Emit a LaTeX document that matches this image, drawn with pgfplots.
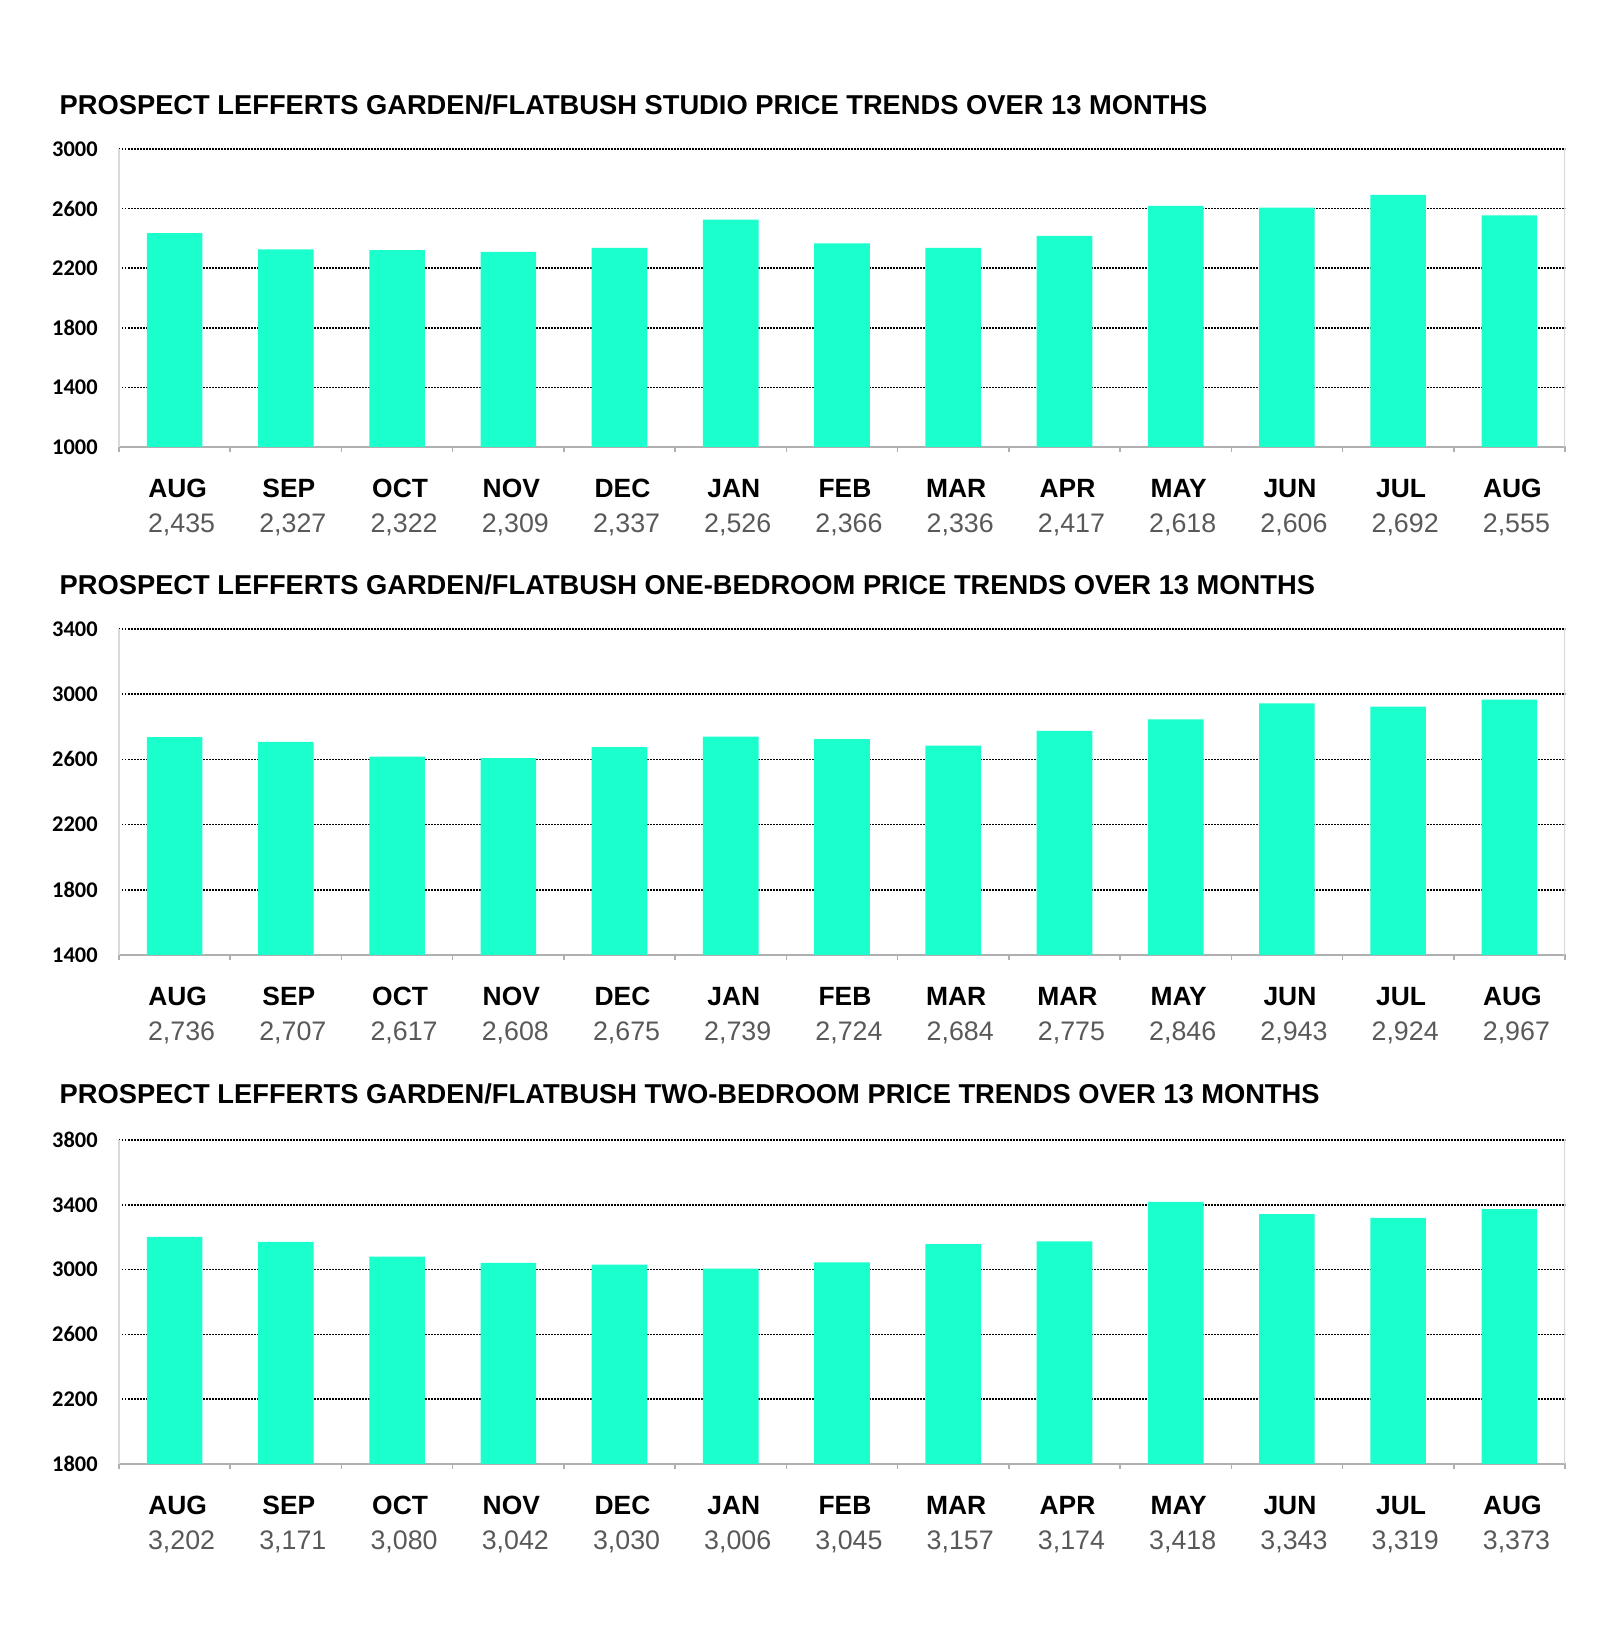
\documentclass[border=0pt]{standalone}
\usepackage{fontspec}
\setmainfont{Liberation Sans}
\newfontfamily\calibri{Carlito}
\usepackage{pgfplots}
\pgfplotsset{compat=1.18}

\definecolor{barcol}{RGB}{26,255,204}
\definecolor{valgray}{RGB}{89,89,89}
\definecolor{botline}{RGB}{176,176,176}
\definecolor{sideline}{RGB}{217,217,217}

\newcommand{\mo}[2]{\textbf{#1}\\\hspace*{4bp}{\fontsize{13.4bp}{17.5bp}\selectfont\color{valgray}#2}}
\newcommand{\ttl}[1]{{\fontsize{13.65bp}{16bp}\selectfont\bfseries #1}}

\pgfplotsset{
  panel/.style={
    scale only axis,
    width=723bp,
    anchor=south west,
    xmin=-0.5, xmax=12.5,
    axis x line*=bottom,
    axis y line*=left,
    x axis line style={draw=botline, line width=0.9bp},
    y axis line style={draw=sideline, line width=0.8bp},
    xtick={-0.5,0.5,...,12.5},
    x tick label as interval,
    tick align=outside,
    major tick length=2.5bp,
    xtick style={draw=botline, line width=0.8bp},
    ytick style={draw=none},
    ymajorgrids,
    grid style={black, line width=0.75bp, dash pattern=on 0.75bp off 0.75bp},
    yticklabel style={font=\calibri\bfseries\fontsize{11.2bp}{12bp}\selectfont,
      anchor=east, inner sep=0pt, xshift=-8bp},
    xticklabel style={font=\fontsize{13.2bp}{17.5bp}\selectfont,
      align=center, anchor=north, inner sep=0pt, yshift=-13.5bp, xshift=1.5bp},
    /pgf/number format/.cd, 1000 sep={}, assume math mode=true,
  },
  panel bars/.style={ybar, bar width=0.5, fill=barcol, draw=none},
}

\begin{document}
\begin{tikzpicture}
\path (0,0) rectangle (800bp,813bp);

% studio
\begin{axis}[panel, at={(59.5bp,589.5bp)}, height=149bp,
  ymin=1000, ymax=3000, ytick={1000,1400,...,3000},
  xticklabels={\mo{AUG}{2,435},\mo{SEP}{2,327},\mo{OCT}{2,322},\mo{NOV}{2,309},
    \mo{DEC}{2,337},\mo{JAN}{2,526},\mo{FEB}{2,366},\mo{MAR}{2,336},\mo{APR}{2,417},
    \mo{MAY}{2,618},\mo{JUN}{2,606},\mo{JUL}{2,692},\mo{AUG}{2,555}}]
\addplot[panel bars] coordinates {(0,2435) (1,2327) (2,2322) (3,2309) (4,2337) (5,2526)
  (6,2366) (7,2336) (8,2417) (9,2618) (10,2606) (11,2692) (12,2555)};
\draw[sideline, line width=0.8bp] (rel axis cs:1,0) -- (rel axis cs:1,1);
\end{axis}

% one-bedroom
\begin{axis}[panel, at={(59.5bp,335.5bp)}, height=163bp,
  ymin=1400, ymax=3400, ytick={1400,1800,...,3400},
  xticklabels={\mo{AUG}{2,736},\mo{SEP}{2,707},\mo{OCT}{2,617},\mo{NOV}{2,608},
    \mo{DEC}{2,675},\mo{JAN}{2,739},\mo{FEB}{2,724},\mo{MAR}{2,684},\mo{MAR}{2,775},
    \mo{MAY}{2,846},\mo{JUN}{2,943},\mo{JUL}{2,924},\mo{AUG}{2,967}}]
\addplot[panel bars] coordinates {(0,2736) (1,2707) (2,2617) (3,2608) (4,2675) (5,2739)
  (6,2724) (7,2684) (8,2775) (9,2846) (10,2943) (11,2924) (12,2967)};
\draw[sideline, line width=0.8bp] (rel axis cs:1,0) -- (rel axis cs:1,1);
\end{axis}

% two-bedroom
\begin{axis}[panel, at={(59.5bp,81bp)}, height=162bp,
  ymin=1800, ymax=3800, ytick={1800,2200,...,3800},
  xticklabels={\mo{AUG}{3,202},\mo{SEP}{3,171},\mo{OCT}{3,080},\mo{NOV}{3,042},
    \mo{DEC}{3,030},\mo{JAN}{3,006},\mo{FEB}{3,045},\mo{MAR}{3,157},\mo{APR}{3,174},
    \mo{MAY}{3,418},\mo{JUN}{3,343},\mo{JUL}{3,319},\mo{AUG}{3,373}}]
\addplot[panel bars] coordinates {(0,3202) (1,3171) (2,3080) (3,3042) (4,3030) (5,3006)
  (6,3045) (7,3157) (8,3174) (9,3418) (10,3343) (11,3319) (12,3373)};
\draw[sideline, line width=0.8bp] (rel axis cs:1,0) -- (rel axis cs:1,1);
\end{axis}

\node[anchor=west, inner sep=0pt] at (29.65bp,760.5bp)
  {\ttl{PROSPECT LEFFERTS GARDEN/FLATBUSH STUDIO PRICE TRENDS OVER 13 MONTHS}};
\node[anchor=west, inner sep=0pt] at (29.65bp,520.5bp)
  {\ttl{PROSPECT LEFFERTS GARDEN/FLATBUSH ONE-BEDROOM PRICE TRENDS OVER 13 MONTHS}};
\node[anchor=west, inner sep=0pt] at (29.65bp,266bp)
  {\ttl{PROSPECT LEFFERTS GARDEN/FLATBUSH TWO-BEDROOM PRICE TRENDS OVER 13 MONTHS}};
\end{tikzpicture}
\end{document}
